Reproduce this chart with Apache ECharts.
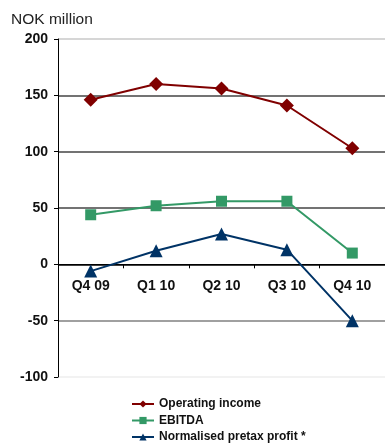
<!DOCTYPE html>
<html>
<head>
<meta charset="utf-8">
<script src="https://cdn.jsdelivr.net/npm/echarts@6/dist/echarts.min.js"></script>
<style>
  html, body { margin: 0; padding: 0; background: #fff; }
  #main { width: 385px; height: 443px; }
</style>
</head>
<body>
<div id="main"></div>
<script>
// quarters on the x axis
var quarters = ['Q4 09', 'Q1 10', 'Q2 10', 'Q3 10', 'Q4 10'];
// NOK million
var operatingIncome = [146, 160, 156, 141, 103];
var ebitda = [44, 52, 56, 56, 10];
var pretaxProfit = [-6, 12, 27, 13, -50];
var yTicks = [-100, -50, 0, 50, 100, 150, 200];

var gridTop = 39, gridBottom = 66, H = 443;
var yMin = yTicks[0], yMax = yTicks[yTicks.length - 1];
// move the category axis up to the zero line (labels included)
var plotH = H - gridTop - gridBottom;
var zeroOffset = -plotH * (0 - yMin) / (yMax - yMin);

var chart = echarts.init(document.getElementById('main'));

var option = {
  animation: false,
  color: ['#800000', '#339966', '#003366'],
  title: {
    text: 'NOK million',
    left: 6,
    top: 7,
    textStyle: { fontFamily: 'Liberation Sans', fontSize: 15.5, fontWeight: 'normal', color: '#222' }
  },
  grid: { left: 58, top: gridTop, right: -5, bottom: gridBottom },
  legend: {
    orient: 'vertical',
    left: 126,
    top: 393,
    height: 80,
    itemWidth: 22,
    itemHeight: 9,
    itemGap: 4.5,
    textStyle: { fontFamily: 'Liberation Sans', fontSize: 12, fontWeight: 'bold', color: '#111' },
    data: ['Operating income', 'EBITDA', 'Normalised pretax profit *']
  },
  xAxis: {
    type: 'category',
    data: quarters,
    offset: zeroOffset,
    axisLine: { onZero: false, lineStyle: { color: '#000', width: 1 } },
    axisTick: { show: true, length: 4, inside: false, lineStyle: { color: '#000' } },
    axisLabel: { margin: 15, fontFamily: 'Liberation Sans', fontSize: 14, fontWeight: 'bold', color: '#111' }
  },
  yAxis: {
    type: 'value',
    min: yMin,
    max: yMax,
    interval: 50,
    axisLine: { show: true, lineStyle: { color: '#000' } },
    axisTick: { show: true, length: 4, lineStyle: { color: '#000' } },
    axisLabel: { margin: 10, fontFamily: 'Liberation Sans', fontSize: 14, fontWeight: 'bold', color: '#111' },
    splitLine: {
      show: true,
      lineStyle: { color: ['#eeeeee', '#808080', '#000', '#444', '#444', '#444', '#c8c8c8'], width: 1.5 }
    }
  },
  series: [{
    name: 'Operating income',
    type: 'line',
    data: operatingIncome,
    symbol: 'diamond',
    symbolSize: 14,
    lineStyle: { width: 2 }
  }, {
    name: 'EBITDA',
    type: 'line',
    data: ebitda,
    symbol: 'rect',
    symbolSize: 11,
    lineStyle: { width: 2 }
  }, {
    name: 'Normalised pretax profit *',
    type: 'line',
    data: pretaxProfit,
    symbol: 'triangle',
    symbolSize: 13,
    lineStyle: { width: 2 }
  }]
};

chart.setOption(option);
</script>
</body>
</html>
